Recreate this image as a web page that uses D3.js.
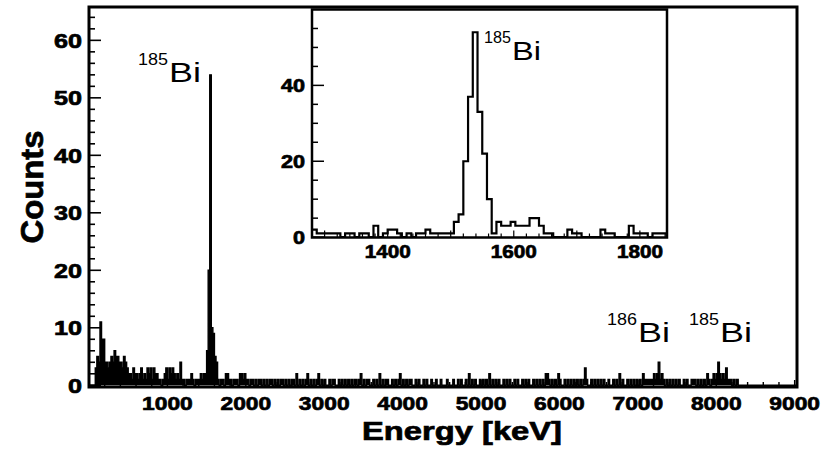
<!DOCTYPE html>
<html>
<head>
<meta charset="utf-8">
<script src="https://cdn.jsdelivr.net/npm/d3@7/dist/d3.min.js"></script>
<style>
  body { margin: 0; background: #fff; }
  text { font-family: "Liberation Sans", Arial, sans-serif; fill: #000; }
  .heavy { stroke: #000; stroke-width: 0.7px; }
</style>
</head>
<body>
<svg id="chart" width="829" height="452"></svg>
<script>
// main spectrum, 20 keV bins (bin start in keV -> counts), empty bins are 0
var mainBinWidth = 20;
var mainEnergy = [
  80, 100, 120, 140, 160, 180, 200, 220, 240, 260, 280, 300, 320, 340, 360, 380,
  400, 420, 440, 460, 480, 500, 520, 540, 560, 580, 600, 620, 640, 660, 680, 700,
  720, 740, 760, 780, 800, 820, 840, 860, 880, 900, 940, 960, 980, 1000, 1020, 1040,
  1060, 1080, 1100, 1120, 1140, 1160, 1180, 1200, 1240, 1260, 1280, 1300, 1320, 1360,
  1380, 1400, 1420, 1440, 1460, 1480, 1500, 1520, 1540, 1560, 1580, 1600, 1620, 1640,
  1680, 1700, 1740, 1760, 1780, 1800, 1840, 1860, 1880, 1920, 1940, 1960, 1980, 2000,
  2020, 2060, 2080, 2120, 2160, 2180, 2220, 2260, 2300, 2320, 2360, 2400, 2440, 2460,
  2500, 2540, 2580, 2600, 2640, 2680, 2720, 2760, 2780, 2820, 2860, 2900, 2920, 2960,
  3000, 3060, 3100, 3120, 3180, 3220, 3260, 3300, 3340, 3380, 3400, 3440, 3460, 3500,
  3540, 3560, 3620, 3660, 3700, 3740, 3780, 3800, 3860, 3900, 3940, 3960, 4000, 4040,
  4080, 4100, 4160, 4200, 4260, 4300, 4360, 4420, 4480, 4560, 4640, 4700, 4740, 4800,
  4840, 4880, 4920, 4980, 5020, 5060, 5100, 5140, 5180, 5220, 5280, 5320, 5360, 5420,
  5460, 5520, 5560, 5600, 5660, 5700, 5740, 5780, 5820, 5840, 5860, 5900, 5940, 5980,
  6000, 6060, 6100, 6140, 6180, 6220, 6260, 6300, 6320, 6340, 6400, 6440, 6480, 6520,
  6560, 6620, 6680, 6720, 6760, 6800, 6860, 6900, 6940, 6980, 7020, 7060, 7080, 7100,
  7120, 7140, 7160, 7180, 7200, 7220, 7240, 7260, 7280, 7300, 7320, 7360, 7400, 7440,
  7480, 7520, 7580, 7620, 7680, 7700, 7720, 7760, 7800, 7840, 7880, 7900, 7940, 7960,
  7980, 8000, 8020, 8040, 8060, 8080, 8100, 8120, 8140, 8160, 8180, 8220, 8260
];
var mainCounts = [
  3, 5, 4, 11, 8, 8, 4, 4, 3, 4, 5, 4, 6, 5, 5, 4,
  4, 3, 5, 4, 3, 2, 2, 1, 3, 2, 2, 1, 2, 3, 1, 2,
  1, 3, 2, 3, 1, 3, 2, 2, 1, 1, 1, 2, 3, 1, 3, 2,
  3, 2, 1, 2, 1, 4, 1, 1, 1, 1, 1, 2, 1, 1,
  1, 1, 2, 1, 2, 2, 6, 20, 54, 10, 9, 5, 4, 1,
  1, 1, 2, 2, 1, 1, 1, 1, 1, 2, 2, 1, 2, 1,
  1, 1, 1, 1, 1, 1, 1, 1, 1, 1, 1, 1, 1, 1,
  1, 1, 1, 1, 2, 1, 1, 1, 2, 1, 1, 1, 2, 1,
  1, 1, 1, 1, 1, 1, 1, 1, 1, 1, 1, 1, 2, 1,
  1, 1, 1, 1, 2, 1, 1, 1, 1, 1, 1, 2, 1, 1,
  1, 1, 1, 1, 1, 1, 1, 1, 1, 1, 1, 1, 1, 1,
  2, 1, 1, 1, 1, 1, 2, 1, 1, 1, 1, 1, 1, 1,
  1, 1, 1, 1, 1, 1, 1, 1, 2, 2, 1, 1, 1, 2,
  1, 1, 1, 1, 1, 1, 1, 1, 3, 1, 1, 1, 1, 1,
  1, 1, 1, 1, 2, 1, 1, 1, 1, 1, 1, 2, 1, 1,
  1, 1, 1, 1, 2, 1, 2, 4, 1, 2, 1, 1, 1, 1,
  1, 1, 1, 1, 1, 1, 1, 1, 1, 1, 2, 1, 1, 2,
  1, 2, 4, 2, 1, 2, 1, 3, 1, 1, 1, 1, 1
];

// inset, 7.5 keV bins from 1280 keV
var insetStart = 1280, insetBinWidth = 7.5;
var insetCounts = [
  2, 1, 1, 1, 1, 1, 0, 1, 1, 0, 1, 1, 0, 3, 0, 1,
  2, 2, 1, 0, 1, 0, 1, 1, 2, 1, 1, 1, 1, 1, 4, 6,
  20, 37, 54, 33, 22, 10, 1, 4, 3, 3, 4, 3, 3, 3,
  5, 5, 3, 1, 1, 0, 0, 0, 2, 1, 1, 0, 0, 0, 0, 2,
  1, 1, 0, 0, 0, 3, 1, 1, 1, 0, 1, 1, 1
];

var mainXTicks = [1000, 2000, 3000, 4000, 5000, 6000, 7000, 8000, 9000];
var mainYTicks = [0, 10, 20, 30, 40, 50, 60];
var insetXTicks = [1400, 1600, 1800];
var insetYTicks = [0, 20, 40];

var svg = d3.select("#chart");

var x = d3.scaleLinear().domain([0, 9030]).range([89, 797]);
var y = d3.scaleLinear().domain([-0.3, 65.8]).range([387, 7]);
var ix = d3.scaleLinear().domain([1280, 1843]).range([312, 667]);
var iy = d3.scaleLinear().domain([-0.1, 60]).range([237.5, 9.5]);

// text drawn a bit wider, like the original
function label(txt, px, py, size, anchor, sx) {
    return svg.append("text").attr("class", "heavy")
        .attr("transform", "translate(" + px + "," + py + ") scale(" + sx + ",1)")
        .attr("text-anchor", anchor)
        .attr("font-size", size)
        .attr("font-weight", "bold")
        .text(txt);
}

svg.append("clipPath").attr("id", "mainClip")
    .append("rect").attr("x", 89).attr("y", 7).attr("width", 708).attr("height", 380);

// main histogram, filled
var countAt = new Map(mainEnergy.map((e, i) => [e, mainCounts[i]]));
var mainBins = d3.range(0, 9040, mainBinWidth).map(e => ({ e: e, n: countAt.get(e) || 0 }));
var stepLine = d3.line().curve(d3.curveStepAfter);

svg.append("path")
    .attr("clip-path", "url(#mainClip)")
    .attr("fill", "#000").attr("stroke", "#000").attr("stroke-width", 1.4)
    .attr("d", stepLine.x(d => x(d.e)).y(d => y(d.n))(mainBins));

// main ticks (inward)
var g = svg.append("g").attr("stroke", "#000");
d3.range(0, 66, 2).forEach(function(v) {
    var len = v % 10 === 0 ? 12 : 6;
    g.append("line").attr("x1", 89).attr("x2", 89 + len)
        .attr("y1", y(v)).attr("y2", y(v)).attr("stroke-width", 1.6);
});
d3.range(200, 9001, 200).forEach(function(v) {
    var len = v % 1000 === 0 ? 7 : 5;
    g.append("line").attr("x1", x(v)).attr("x2", x(v))
        .attr("y1", 387).attr("y2", 387 - len).attr("stroke-width", 1.4);
});

// main frame
svg.append("rect").attr("x", 89).attr("y", 7).attr("width", 708).attr("height", 380)
    .attr("fill", "none").attr("stroke", "#000").attr("stroke-width", 3);

mainYTicks.forEach(v => label(v, 82, y(v) + 7.5, 21, "end", 1.2));
mainXTicks.forEach(v => label(v, x(v), 410, 19, "middle", 1.2));

svg.append("text").attr("class", "heavy").attr("x", 462).attr("y", 440)
    .attr("text-anchor", "middle").attr("font-size", 26).attr("font-weight", "bold")
    .attr("textLength", 200).attr("lengthAdjust", "spacingAndGlyphs")
    .text("Energy [keV]");
svg.append("text").attr("class", "heavy").attr("transform", "translate(43,187) rotate(-90)")
    .attr("text-anchor", "middle").attr("font-size", 31).attr("font-weight", "bold")
    .attr("textLength", 113).attr("lengthAdjust", "spacingAndGlyphs")
    .text("Counts");

// isotope labels
function isotope(mass, left, base, supLen, biLen, biSize) {
    svg.append("text").attr("x", left).attr("y", base - 17)
        .attr("font-size", 17).attr("textLength", supLen).attr("lengthAdjust", "spacingAndGlyphs")
        .text(mass);
    svg.append("text").attr("x", left + supLen + 1).attr("y", base)
        .attr("font-size", biSize).attr("textLength", biLen).attr("lengthAdjust", "spacingAndGlyphs")
        .text("Bi");
}
isotope("185", 138, 82, 30, 32, 27);
isotope("186", 607, 342, 30, 32, 27);
isotope("185", 689, 342, 30, 32, 27);

// inset
svg.append("rect").attr("x", 312).attr("y", 9.5).attr("width", 355).attr("height", 228)
    .attr("fill", "#fff");

var insetBins = insetCounts.map((n, i) => ({ e: insetStart + i * insetBinWidth, n: n }));
insetBins.push({ e: insetStart + insetCounts.length * insetBinWidth, n: 0 });

svg.append("clipPath").attr("id", "insetClip")
    .append("rect").attr("x", 312).attr("y", 9.5).attr("width", 355).attr("height", 228);

svg.append("path")
    .attr("clip-path", "url(#insetClip)")
    .attr("fill", "none").attr("stroke", "#000").attr("stroke-width", 2.2)
    .attr("d", stepLine.x(d => ix(d.e)).y(d => iy(d.n))(insetBins));

var gi = svg.append("g").attr("stroke", "#000");
d3.range(0, 60, 5).forEach(function(v) {
    var len = v % 20 === 0 ? 12 : 6;
    gi.append("line").attr("x1", 312).attr("x2", 312 + len)
        .attr("y1", iy(v)).attr("y2", iy(v)).attr("stroke-width", 1.5);
});
d3.range(1300, 1841, 20).forEach(function(v) {
    var len = v % 100 === 0 ? 7 : 4;
    gi.append("line").attr("x1", ix(v)).attr("x2", ix(v))
        .attr("y1", 237.5).attr("y2", 237.5 - len).attr("stroke-width", 1.2);
});

svg.append("rect").attr("x", 312).attr("y", 9.5).attr("width", 355).attr("height", 228)
    .attr("fill", "none").attr("stroke", "#000").attr("stroke-width", 2.5);

insetYTicks.forEach(v => label(v, 305, iy(v) + 6.5, 18, "end", 1.2));
insetXTicks.forEach(v => label(v, ix(v), 258, 18, "middle", 1.15));

isotope("185", 484, 60, 27, 29, 26);
</script>
</body>
</html>
